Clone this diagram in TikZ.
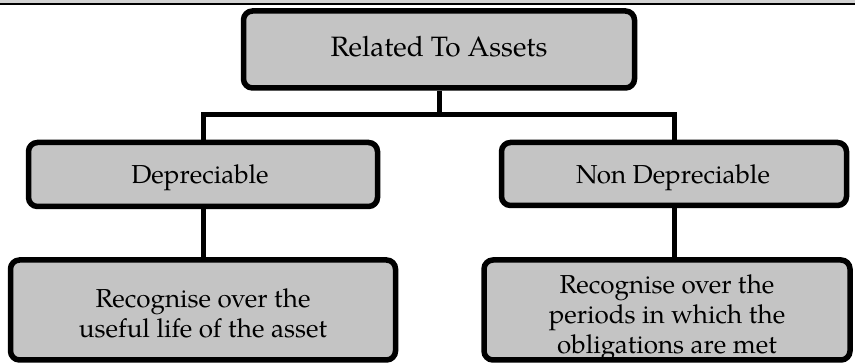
\documentclass[tikz,border=0pt]{standalone}
\usepackage{fontspec}
\setmainfont{TeX Gyre Pagella}
\begin{document}
\begin{tikzpicture}[x=1pt,y=-1pt,
  box/.style={draw=black, fill=boxgray, line width=5.5pt, rounded corners=9pt,
    inner sep=0pt, anchor=center},
  lbl/.style={align=center, inner sep=0pt, font=\fontsize{26}{30}\selectfont},
  conn/.style={draw=black, line width=5pt, line join=miter}]
\definecolor{boxgray}{HTML}{C4C4C4}
\definecolor{bandgray}{HTML}{D2D2D2}
% canvas
\useasboundingbox (0,0) rectangle (855,363);
\fill[white] (0,0) rectangle (855,363);
% strip along the top edge
\fill[bandgray] (0,0) rectangle (855,2.7);
\fill[black] (0,2.7) rectangle (855,5.2);
% boxes
\node[box, minimum width=391pt, minimum height=77pt] (top) at (439,49.5) {};
\node[box, minimum width=349pt, minimum height=64pt] (dep) at (203,174.5) {};
\node[box, minimum width=345pt, minimum height=63pt] (nondep) at (674,174) {};
\node[box, minimum width=385pt, minimum height=100pt] (bl) at (203,310) {};
\node[box, minimum width=366pt, minimum height=100pt] (br) at (667,310) {};
% texts
\node[lbl, font=\fontsize{28}{32}\selectfont] (ttop) at (439,47) {Related To Assets};
\node[lbl] (tdep) at (200,178) {Depreciable};
\node[lbl] (tnondep) at (673,178) {Non Depreciable};
\node[lbl] (tbl) at (203,313) {Recognise over the\\useful life of the asset};
\node[lbl] (tbr) at (667,318) {Recognise over the\\periods in which the\\obligations are met};
% connectors
\coordinate (hl) at (203,115);
\coordinate (hr) at (674,115);
\draw[conn] (top.south) -- (top.south |- hl);
\draw[conn] (dep.north) -- (hl) -- (hr) -- (nondep.north);
\draw[conn] (dep.south) -- (dep.south |- bl.north);
\draw[conn] (nondep.south) -- (nondep.south |- br.north);
\end{tikzpicture}
\end{document}
